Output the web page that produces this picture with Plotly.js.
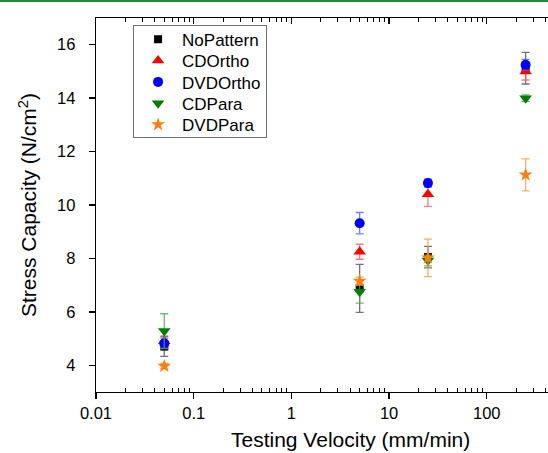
<!DOCTYPE html>
<html>
<head>
<meta charset="utf-8">
<script src="https://cdn.plot.ly/plotly-3.0.1.min.js"></script>
<style>
html, body { margin: 0; padding: 0; overflow: hidden; background: #fff; }
#chart { width: 548px; height: 453px; }
#topbar { position: absolute; left: 0; top: 0; width: 548px; height: 2px; background: #1e8c3c; z-index: 10; }
</style>
</head>
<body>
<div id="topbar"></div>
<div id="chart"></div>
<script>
// Data
const velocity = [0.05, 5, 25, 250];
const seriesNames = ["NoPattern", "CDOrtho", "DVDOrtho", "CDPara", "DVDPara"];
const noPattern    = [4.70, 6.88, 8.05, 15.12];
const noPatternErr = [0.37, 0.90, 0.40, 0.59];
const cdOrtho      = [4.90, 8.25, 10.40, 15.00];
const cdOrthoErr   = [0.20, 0.28, 0.45, 0.32];
const dvdOrtho     = [4.82, 9.32, 10.82, 15.25];
const dvdOrthoErr  = [0.20, 0.40, 0.15, 0.20];
const cdPara       = [5.28, 6.75, 7.92, 14.00];
const cdParaErr    = [0.65, 0.42, 0.20, 0.12];
const dvdPara      = [3.97, 7.15, 8.02, 11.13];
const dvdParaErr   = [0.10, 0.15, 0.70, 0.60];
const xTickVals = [0.01, 0.1, 1, 10, 100];
const xTickText = ["0.01", "0.1", "1", "10", "100"];

const FONT = "Liberation Sans, Arial, sans-serif";

const styles = [
  {sym: "square",        size: 8,  color: "#000000", err: "rgba(90,90,90,0.85)"},
  {sym: "triangle-up",   size: 11, color: "#ff0000", err: "rgba(255,90,90,0.8)"},
  {sym: "circle",        size: 10, color: "#0000ff", err: "rgba(90,90,255,0.8)"},
  {sym: "triangle-down", size: 11, color: "#008000", err: "rgba(70,170,70,0.8)"},
  {sym: "star",          size: 10.5, color: "#ff7f0e", err: "rgba(255,160,60,0.85)"}
];
const ys = [noPattern, cdOrtho, dvdOrtho, cdPara, dvdPara];
const errs = [noPatternErr, cdOrthoErr, dvdOrthoErr, cdParaErr, dvdParaErr];

const traces = seriesNames.map((name, i) => ({
  type: "scatter", mode: "markers", name: name,
  x: velocity, y: ys[i],
  marker: {symbol: styles[i].sym, size: styles[i].size, color: styles[i].color, line: {width: 0}},
  error_y: {type: "data", array: errs[i], visible: true, color: styles[i].err, thickness: 1.3, width: 4}
}));
// empty trace to carry the mirrored top axis
traces.push({type: "scatter", x: [], y: [], xaxis: "x2", yaxis: "y", showlegend: false, hoverinfo: "skip"});

const minorVals = [];
for (let e = -2; e <= 2; e++) {
  for (let k = 2; k <= 9; k++) minorVals.push(k * Math.pow(10, e));
}

const xr = [-2, 2.627];
const layout = {
  width: 548, height: 453,
  margin: {l: 96, r: 0, t: 18, b: 61},
  paper_bgcolor: "#ffffff", plot_bgcolor: "#ffffff",
  font: {family: FONT, color: "#000000"},
  showlegend: true,
  legend: {
    x: 0.082, xanchor: "left", y: 0.982, yanchor: "top",
    bordercolor: "#707070", borderwidth: 1, bgcolor: "rgba(255,255,255,0)",
    font: {family: FONT, size: 17, color: "#000"},
    itemwidth: 38, tracegroupgap: 0
  },
  xaxis: {
    type: "log", range: xr, showgrid: false, zeroline: false,
    showline: true, linecolor: "#000", linewidth: 1.3,
    ticks: "outside", ticklen: 6, tickwidth: 1.3, tickcolor: "#000",
    tickvals: xTickVals, ticktext: xTickText,
    tickfont: {family: FONT, size: 16.5, color: "#000"},
    minor: {tickvals: minorVals, ticks: "inside", ticklen: 4, tickwidth: 1, tickcolor: "#000", showgrid: false},
    anchor: "y"
  },
  xaxis2: {
    type: "log", range: xr, overlaying: "x", side: "top", anchor: "y",
    showgrid: false, zeroline: false, showline: true, linecolor: "#000", linewidth: 1.3,
    ticks: "inside", ticklen: 6, tickwidth: 1.3, tickcolor: "#000",
    tickvals: xTickVals, showticklabels: false,
    minor: {tickvals: minorVals, ticks: "inside", ticklen: 4, tickwidth: 1, tickcolor: "#000", showgrid: false}
  },
  yaxis: {
    range: [3, 17], dtick: 2, tick0: 0, showgrid: false, zeroline: false,
    showline: true, linecolor: "#000", linewidth: 1.3,
    ticks: "outside", ticklen: 6, tickwidth: 1.3, tickcolor: "#000",
    ticklabelstandoff: 10,
    tickfont: {family: FONT, size: 16.5, color: "#000"},
    title: {text: "Stress Capacity (N/cm<sup>2</sup>)", font: {family: FONT, size: 21, color: "#000"}, standoff: 14}
  },
  annotations: [{
    text: "Testing Velocity (mm/min)", xref: "paper", yref: "paper",
    x: (350 - 96) / 452, y: -0.127, xanchor: "center", yanchor: "middle",
    showarrow: false, font: {family: FONT, size: 21, color: "#000"}
  }]
};

Plotly.newPlot("chart", traces, layout, {displayModeBar: false, staticPlot: true}).then(() => {
  // tighten legend row spacing to match the reference
  const leg = document.querySelector("#chart .legend");
  if (!leg) return;
  const items = leg.querySelectorAll("g.traces");
  const rowGap = 21.3;
  let first = null;
  items.forEach((g, i) => {
    const t = g.getAttribute("transform") || "";
    const m = t.match(/translate\(\s*([-\d.]+)[ ,]+([-\d.]+)\s*\)/);
    if (!m) return;
    const x = parseFloat(m[1]), y = parseFloat(m[2]);
    if (first === null) first = y - 4;
    g.setAttribute("transform", "translate(" + x + "," + (first + i * rowGap) + ")");
  });
  const bg = leg.querySelector("rect.bg");
  if (bg) bg.setAttribute("height", 112);
});
</script>
</body>
</html>
